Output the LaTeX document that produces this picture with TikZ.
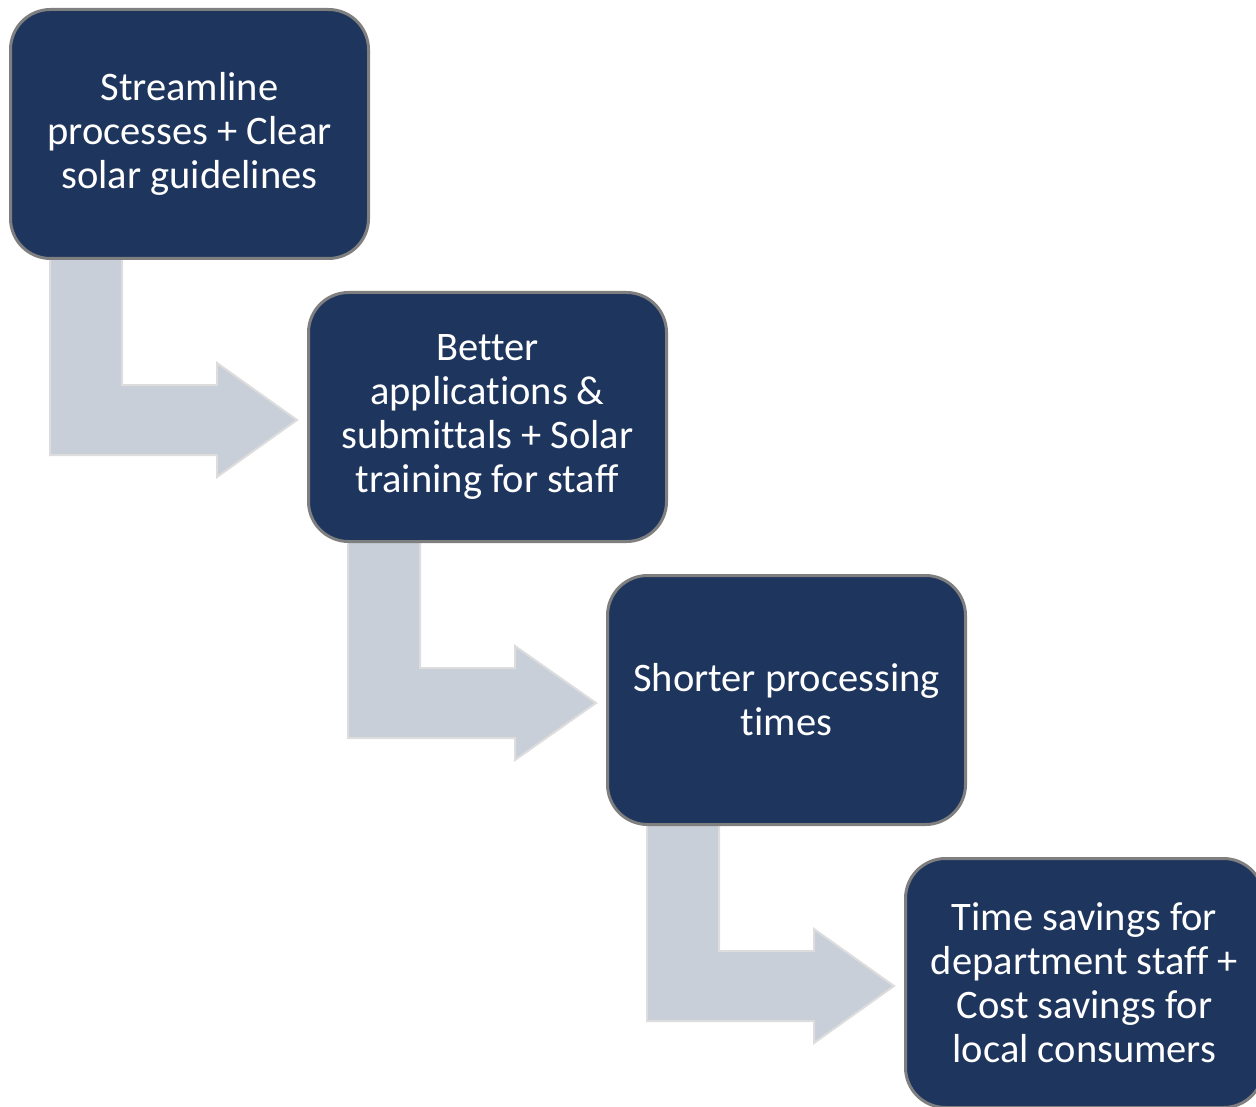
\documentclass[tikz,border=0pt]{standalone}
\usepackage{fontspec}
\setmainfont[Ligatures={NoCommon}]{Carlito}
\usetikzlibrary{calc}
\pgfdeclarelayer{background}
\pgfsetlayers{background,main}
\definecolor{boxfill}{HTML}{1E355E}
\definecolor{boxline}{HTML}{7F7F7F}
\definecolor{arrfill}{HTML}{C8CFD9}
\definecolor{arrline}{HTML}{DDDDDD}
\tikzset{
  stepbox/.style={draw=boxline, line width=3pt, fill=boxfill, rounded corners=40pt,
    minimum width=358pt, minimum height=249pt, text=white, align=center,
    font=\fontsize{40.5}{44}\selectfont, inner sep=0pt},
  bentarrow/.style={fill=arrfill, draw=arrline, line width=2pt, line join=miter}
}
\newcommand{\bent}[2]{%
  \draw[bentarrow] ($(#1.south west)+(41,-5)$) -- ($(#1.south west)+(113,-5)$)
    -- ($(#1.south west)+(113,125)$) -- ($(#1.south west)+(208,125)$)
    -- ($(#1.south west)+(208,103)$) -- ($(#2.west)+(-10,3)$)
    -- ($(#1.south west)+(208,217)$) -- ($(#1.south west)+(208,195)$)
    -- ($(#1.south west)+(41,195)$) -- cycle;}
\begin{document}
\begin{tikzpicture}[x=1pt,y=-1pt]
\useasboundingbox (0,0) rectangle (1256,1107);
\clip (0,0) rectangle (1256,1107);
\node[stepbox] (b1) at (189.5,134) {Streamline\\processes + Clear\\solar guidelines};
\node[stepbox] (b2) at (487.5,417) {Better\\applications \&\\submittals + Solar\\training for staff};
\node[stepbox] (b3) at (786.5,700) {Shorter processing\\times};
\node[stepbox] (b4) at (1084.5,983) {Time savings for\\department staff +\\Cost savings for\\local consumers};
\begin{pgfonlayer}{background}
\bent{b1}{b2}
\bent{b2}{b3}
\bent{b3}{b4}
\end{pgfonlayer}
\end{tikzpicture}
\end{document}
